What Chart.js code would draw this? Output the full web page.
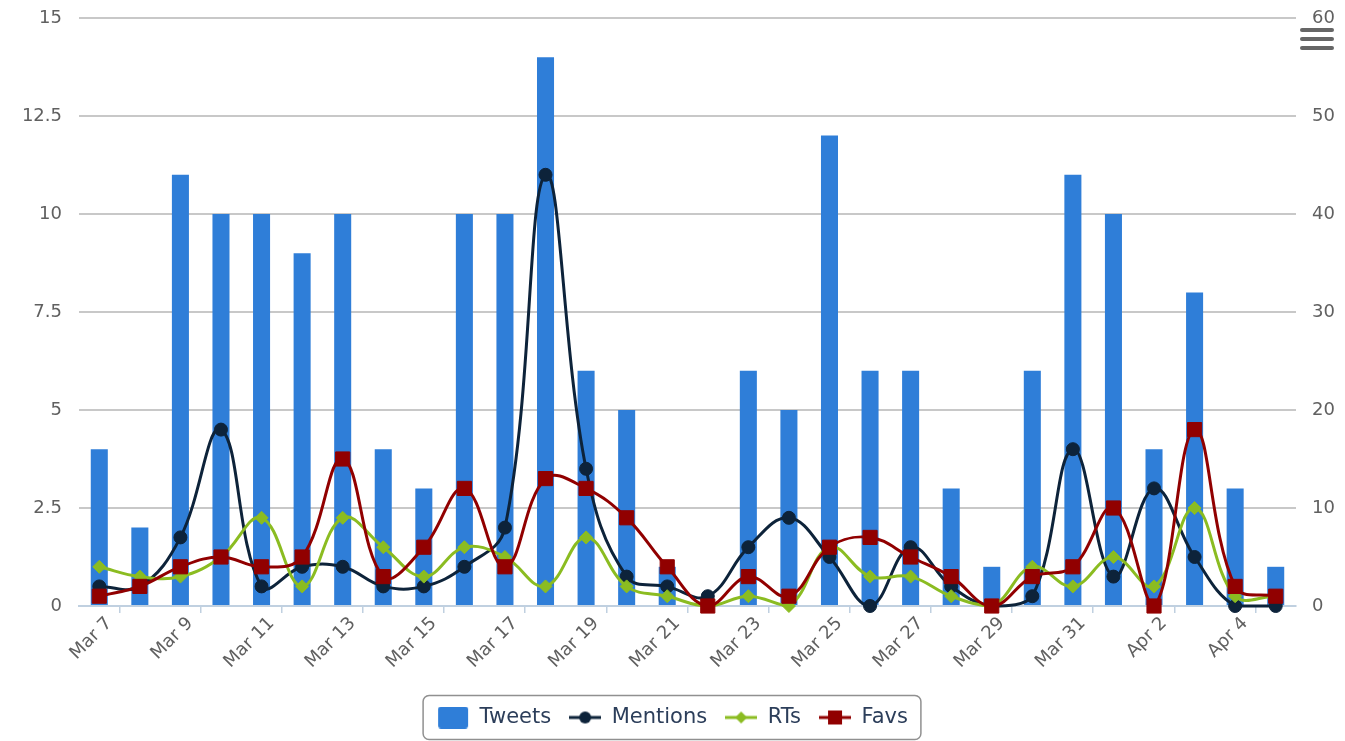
<!DOCTYPE html>
<html><head><meta charset="utf-8">
<script src="https://cdn.jsdelivr.net/npm/chart.js@4/dist/chart.umd.min.js"></script>
<style>html,body{margin:0;padding:0;background:#fff}canvas{display:block}</style>
</head><body>
<canvas id="c" width="1345" height="741"></canvas>
<script>
const categories = ['Mar 7','Mar 8','Mar 9','Mar 10','Mar 11','Mar 12','Mar 13','Mar 14','Mar 15','Mar 16','Mar 17','Mar 18','Mar 19','Mar 20','Mar 21','Mar 22','Mar 23','Mar 24','Mar 25','Mar 26','Mar 27','Mar 28','Mar 29','Mar 30','Mar 31','Apr 1','Apr 2','Apr 3','Apr 4','Apr 5'];
const tweets   = [4,2,11,10,10,9,10,4,3,10,10,14,6,5,1,0,6,5,12,6,6,3,1,6,11,10,4,8,3,1];
const mentions = [2,2,7,18,2,4,4,2,2,4,8,44,14,3,2,1,6,9,5,0,6,2,0,1,16,3,12,5,0,0];
const rts      = [4,3,3,5,9,2,9,6,3,6,5,2,7,2,1,0,1,0,6,3,3,1,0,4,2,5,2,10,1,1];
const favs     = [1,2,4,5,4,5,15,3,6,12,4,13,12,9,4,0,3,1,6,7,5,3,0,3,4,10,0,18,2,1];
const leftTicks  = [0,2.5,5,7.5,10,12.5,15];
const rightTicks = [0,10,20,30,40,50,60];
const seriesNames = ['Tweets','Mentions','RTs','Favs'];

const C_TWEETS='#2f7ed8', C_MENT='#0d233a', C_RT='#8bbc21', C_FAV='#910000';

function legendIcon(kind, color){
  const cv=document.createElement('canvas'); cv.width=32; cv.height=22;
  const g=cv.getContext('2d');
  g.fillStyle=color; g.strokeStyle=color;
  if(kind==='bar'){
    g.beginPath(); g.roundRect(1,0,30,22,3); g.fill();
  } else {
    g.lineWidth=3; g.beginPath(); g.moveTo(0,11); g.lineTo(32,11); g.stroke();
    g.beginPath();
    if(kind==='circle'){ g.arc(16,11,6,0,Math.PI*2); }
    else if(kind==='diamond'){ g.moveTo(16,5);g.lineTo(22,11);g.lineTo(16,17);g.lineTo(10,11);g.closePath(); }
    else { g.rect(9,4,14,14); }
    g.fill();
  }
  return cv;
}
const icons=[legendIcon('bar',C_TWEETS),legendIcon('circle',C_MENT),legendIcon('diamond',C_RT),legendIcon('square',C_FAV)];

const FONT='"DejaVu Sans", sans-serif';
const NONE='rgba(0,0,0,0)';

const extras={
  id:'extras',
  afterDraw(chart){
    const ctx=chart.ctx, lg=chart.legend;
    if(lg && lg.legendHitBoxes && lg.legendHitBoxes.length){
      const hb=lg.legendHitBoxes;
      const l=Math.min(...hb.map(h=>h.left))-14;
      const r=Math.max(...hb.map(h=>h.left+h.width))+13;
      ctx.save(); ctx.strokeStyle='#909090'; ctx.lineWidth=1.5;
      ctx.beginPath(); ctx.roundRect(l,695.5,r-l,44,6); ctx.stroke(); ctx.restore();
    }
    ctx.save(); ctx.strokeStyle='#666'; ctx.lineWidth=4; ctx.lineCap='round';
    [30,39,48].forEach(y=>{ctx.beginPath();ctx.moveTo(1302,y);ctx.lineTo(1332,y);ctx.stroke();});
    ctx.restore();
  }
};

const lineBase={type:'line', yAxisID:'y1', tension:0.4, borderWidth:3, clip:14, pointBorderWidth:1, pointHoverRadius:6};

new Chart(document.getElementById('c'),{
  data:{
    labels:categories,
    datasets:[
      {type:'bar',label:seriesNames[0],data:tweets,yAxisID:'y',backgroundColor:C_TWEETS,categoryPercentage:1,barPercentage:0.42,order:4},
      Object.assign({},lineBase,{label:seriesNames[1],data:mentions,borderColor:C_MENT,backgroundColor:C_MENT,pointStyle:'circle',pointRadius:6.5,order:3}),
      Object.assign({},lineBase,{label:seriesNames[2],data:rts,borderColor:C_RT,backgroundColor:C_RT,pointStyle:'rectRot',pointRadius:6.5,order:2}),
      Object.assign({},lineBase,{label:seriesNames[3],data:favs,borderColor:C_FAV,backgroundColor:C_FAV,pointStyle:'rect',pointRadius:10,order:1})
    ]
  },
  options:{
    responsive:false, animation:false, devicePixelRatio:1,
    layout:{padding:{top:18,bottom:3,left:0,right:0}},
    plugins:{
      tooltip:{enabled:false},
      legend:{
        position:'bottom',
        labels:{
          usePointStyle:true, pointStyleWidth:32, boxWidth:32, boxHeight:22, padding:18,
          color:'#2c3e5a', font:{family:FONT,size:21},
          generateLabels(chart){
            const items=Chart.defaults.plugins.legend.labels.generateLabels(chart);
            items.sort((a,b)=>a.datasetIndex-b.datasetIndex);
            return items.map(it=>Object.assign(it,{pointStyle:icons[it.datasetIndex],fontColor:'#2c3e5a'}));
          }
        }
      }
    },
    scales:{
      x:{
        offset:true,
        grid:{offset:true,drawOnChartArea:false,drawTicks:true,tickLength:7,lineWidth:1.5,
          color:(c)=> (c.index%2===1 && c.index<categories.length) ? '#C0D0E0' : NONE},
        border:{color:'#C0D0E0',width:2},
        ticks:{autoSkip:false,maxRotation:45,minRotation:45,padding:0,labelOffset:10,color:'#606060',
          font:{family:FONT,size:18},
          callback:(v,i)=> i%2===0 ? categories[i] : ''},
        afterFit(s){ s.height=83; }
      },
      y:{
        position:'left', min:0, max:15,
        afterBuildTicks(s){ s.ticks=leftTicks.map(v=>({value:v})); },
        grid:{color:(c)=> c.tick && c.tick.value===0 ? NONE : '#C8C8C8', lineWidth:2, drawTicks:true, tickLength:15, tickColor:NONE},
        border:{display:false},
        ticks:{padding:2,color:'#606060',font:{family:FONT,size:18},callback:(v)=>String(v)},
        afterFit(s){ s.width=79; }
      },
      y1:{
        position:'right', min:0, max:60,
        afterBuildTicks(s){ s.ticks=rightTicks.map(v=>({value:v})); },
        grid:{drawOnChartArea:false,drawTicks:true,tickLength:14,tickColor:NONE,color:NONE},
        border:{display:false},
        ticks:{padding:2,color:'#606060',font:{family:FONT,size:18},callback:(v)=>String(v)},
        afterFit(s){ s.width=49; }
      }
    }
  },
  plugins:[extras]
});
</script>
</body></html>
